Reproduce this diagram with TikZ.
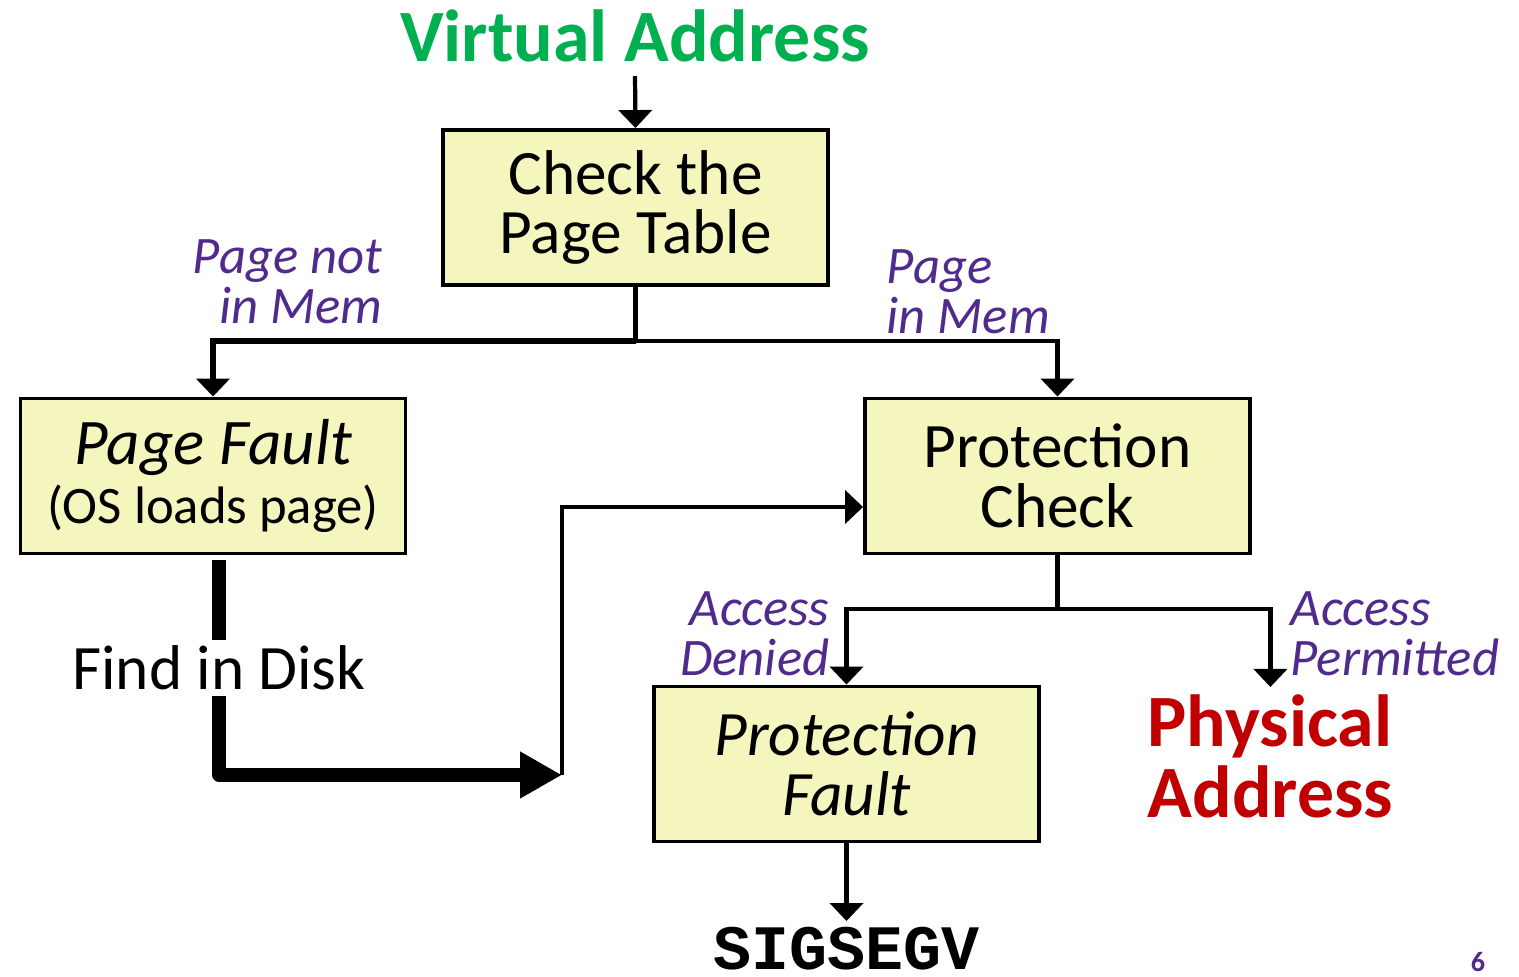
\documentclass[tikz,border=0pt]{standalone}
\usepackage{fontspec}
\setmainfont{Carlito}
\setmonofont{Liberation Mono}
\usetikzlibrary{arrows.meta}

\definecolor{boxfill}{RGB}{245,245,190}
\definecolor{notepurple}{RGB}{80,42,140}
\definecolor{vagreen}{RGB}{0,176,80}
\definecolor{pared}{RGB}{192,0,0}

\begin{document}
\begin{tikzpicture}[
	stepbox/.style={draw, line width=1.1pt, fill=boxfill, minimum width=3.85cm, minimum height=1.55cm, align=center, inner sep=0pt, font=\fontsize{18pt}{17pt}\selectfont},
	note/.style={text=notepurple, font=\fontsize{15pt}{14.2pt}\selectfont\itshape, inner sep=0pt},
	conn/.style={line width=1.2pt, -{Triangle[width=0.33cm,length=0.18cm]}},
	fat/.style={line width=3.8pt, line join=round}
	]
	\useasboundingbox (0,0) rectangle (15.19,-9.77);
	
	% Title and the four steps
	\node[text=vagreen, font=\fontsize{21pt}{21pt}\selectfont\bfseries, anchor=base, inner sep=0pt] (va) at (6.35,-0.62) {Virtual Address};
	\node[stepbox] (check) at (6.355,-2.075) {Check the\\Page Table};
	\node[stepbox] (pf) at (2.13,-4.76) {\fontsize{18.5pt}{17pt}\selectfont\itshape Page Fault\\\fontsize{15pt}{16.5pt}\selectfont (OS loads page)};
	\node[stepbox] (pc) at (10.575,-4.76) {Protection\\Check};
	\node[stepbox, font=\fontsize{18pt}{17pt}\selectfont\itshape] (pfault) at (8.465,-7.64) {Protection\\Fault};
	
	% Plain texts
	\node[font=\fontsize{18pt}{17pt}\selectfont, anchor=base, inner sep=0.05cm] (disk) at (2.19,-6.90) {Find in Disk};
	\node[text=pared, font=\fontsize{21pt}{20.2pt}\selectfont\bfseries, align=left, anchor=north west, inner xsep=0pt, inner ysep=0.07cm] (phys) at (11.47,-6.87) {Physical\\Address};
	\node[font=\fontsize{18pt}{18pt}\selectfont\ttfamily\bfseries, anchor=north, inner sep=0.05cm] (sig) at (8.465,-9.21) {SIGSEGV};
	\node[text=notepurple, font=\fontsize{8pt}{8pt}\selectfont\bfseries] (pg) at (14.78,-9.62) {6};
	
	% Branch labels
	\node[note, align=right, anchor=east] (notin) at (3.83,-2.82) {Page not\\in Mem};
	\node[note, align=left, anchor=west] (inmem) at (8.86,-2.92) {Page\\in Mem};
	\node[note, align=right, anchor=east] (denied) at (8.30,-6.34) {Access\\Denied};
	\node[note, align=left, anchor=west] (permit) at (12.90,-6.34) {Access\\Permitted};
	
	% Connectors
	\coordinate (split) at (6.355,-3.41);
	\coordinate (split2) at (10.575,-6.09);
	\coordinate (join) at (5.62,-7.75);
	
	\draw[conn] ([yshift=-0.13cm]va.south) -- (check.north);
	\draw[line width=1.2pt] (check.south) -- (split);
	\draw[conn, line width=1.7pt] (split) -| (pf.north);
	\draw[conn] (split) -| (pc.north);
	\draw[fat, shorten <=0.05cm] (disk.north |- pf.south) -- (disk.north);
	\draw[fat, -{Triangle[width=0.44cm,length=0.42cm]}] (disk.south) |- (join);
	\draw[conn] (join) |- ([yshift=-0.31cm]pc.west);
	\draw[line width=1.2pt] (pc.south) -- (split2);
	\draw[conn] (split2) -| (pfault.north);
	\draw[conn] (split2) -| (phys.north);
	\draw[conn] (pfault.south) -- (sig.north);
\end{tikzpicture}
\end{document}
